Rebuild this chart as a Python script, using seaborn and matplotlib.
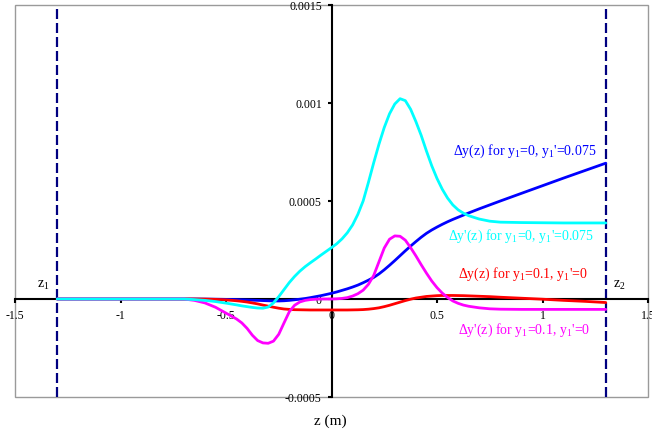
import matplotlib
matplotlib.use("Agg")
import matplotlib.pyplot as plt
from matplotlib.patches import Rectangle
import numpy as np
import pandas as pd
import seaborn as sns

# Longitudinal position along the element (m)
z = [-1.3, -1.1, -0.9, -0.8, -0.7, -0.65, -0.6, -0.55, -0.5,
     -0.45, -0.425, -0.4, -0.375, -0.35, -0.325, -0.3, -0.275, -0.25, -0.225,
     -0.2, -0.175, -0.15, -0.125, -0.1, -0.075, -0.05, -0.025, 0.0,
     0.025, 0.05, 0.075, 0.1, 0.125, 0.15, 0.175, 0.2, 0.225, 0.25,
     0.275, 0.3, 0.325, 0.35, 0.375, 0.4, 0.425, 0.45, 0.475, 0.5,
     0.525, 0.55, 0.575, 0.6, 0.625, 0.65,
     0.7, 0.75, 0.8, 0.9, 1.0, 1.1, 1.2, 1.3]

# Deviations, in units of 1e-4
dy_y0 = [0, 0, 0, 0, 0, 0, -0.005, -0.01, -0.02,
         -0.03, -0.04, -0.05, -0.06, -0.07, -0.08, -0.09, -0.10, -0.10, -0.09,
         -0.07, -0.04, -0.01, 0.025, 0.07, 0.12, 0.17, 0.23, 0.29,
         0.36, 0.44, 0.52, 0.61, 0.71, 0.83, 0.96, 1.10, 1.28, 1.49,
         1.72, 1.96, 2.21, 2.46, 2.70, 2.93, 3.15, 3.35, 3.52, 3.67,
         3.81, 3.94, 4.06, 4.17, 4.28, 4.39,
         4.60, 4.80, 5.00, 5.39, 5.78, 6.17, 6.55, 6.93]

dyp_y0 = [0, 0, 0, 0, 0, -0.03, -0.07, -0.13, -0.21,
          -0.30, -0.35, -0.39, -0.43, -0.46, -0.47, -0.41, -0.20, 0.12, 0.48,
          0.84, 1.15, 1.42, 1.65, 1.85, 2.04, 2.24, 2.43, 2.62,
          2.82, 3.07, 3.38, 3.78, 4.32, 5.00, 5.95, 6.95, 7.90, 8.75,
          9.45, 9.95, 10.22, 10.12, 9.68, 9.05, 8.35, 7.55, 6.80, 6.15,
          5.60, 5.15, 4.80, 4.55, 4.38, 4.25,
          4.08, 3.97, 3.92, 3.90, 3.89, 3.88, 3.88, 3.88]

dy_y01 = [0, 0, 0, 0, 0, 0, -0.005, -0.02, -0.045,
          -0.09, -0.12, -0.155, -0.20, -0.25, -0.31, -0.365, -0.42, -0.47, -0.51,
          -0.53, -0.545, -0.55, -0.555, -0.56, -0.56, -0.56, -0.56, -0.56,
          -0.56, -0.56, -0.56, -0.555, -0.55, -0.54, -0.52, -0.49, -0.45, -0.39,
          -0.32, -0.24, -0.16, -0.08, -0.01, 0.05, 0.09, 0.13, 0.15, 0.17,
          0.18, 0.18, 0.18, 0.175, 0.17, 0.16,
          0.14, 0.12, 0.09, 0.04, -0.01, -0.07, -0.12, -0.18]

dyp_y01 = [0, 0, 0, 0, 0, -0.07, -0.20, -0.42, -0.72,
           -1.02, -1.22, -1.50, -1.85, -2.12, -2.24, -2.26, -2.15, -1.80, -1.22,
           -0.65, -0.32, -0.15, -0.07, -0.03, -0.01, 0.0, 0.0, 0.0,
           0.01, 0.03, 0.07, 0.15, 0.27, 0.45, 0.75, 1.20, 1.90, 2.60,
           3.05, 3.22, 3.20, 3.00, 2.62, 2.20, 1.75, 1.32, 0.92, 0.58,
           0.30, 0.08, -0.10, -0.22, -0.31, -0.37,
           -0.45, -0.50, -0.52, -0.53, -0.53, -0.53, -0.53, -0.53]

SCALE = 1e-4

series_names = [
    "dy_y0", "dy_y01", "dyp_y01", "dyp_y0",
]
series_values = {
    "dy_y0": dy_y0,
    "dy_y01": dy_y01,
    "dyp_y01": dyp_y01,
    "dyp_y0": dyp_y0,
}
palette = {
    "dy_y0": "#0000ff",
    "dy_y01": "#ff0000",
    "dyp_y01": "#ff00ff",
    "dyp_y0": "#00ffff",
}

x_ticks = [-1.5, -1, -0.5, 0, 0.5, 1, 1.5]
x_tick_labels = ["-1.5", "-1", "-0.5", "0", "0.5", "1", "1.5"]
y_ticks = [-0.0005, 0, 0.0005, 0.001, 0.0015]
y_tick_labels = ["-0.0005", "0", "0.0005", "0.001", "0.0015"]
z_ends = [-1.3, 1.3]

frames = []
for name in series_names:
    frames.append(pd.DataFrame({
        "z": z,
        "value": np.array(series_values[name]) * SCALE,
        "series": name,
    }))
df = pd.concat(frames, ignore_index=True)

sns.set_style("white")
plt.rcParams["font.family"] = ["Liberation Serif", "DejaVu Serif"]
plt.rcParams["mathtext.fontset"] = "custom"
plt.rcParams["mathtext.rm"] = "Liberation Serif"
plt.rcParams["mathtext.it"] = "Liberation Serif:italic"

fig = plt.figure(figsize=(6.52, 4.38), dpi=100)
ax = fig.add_axes([15 / 652, 41 / 438, 633 / 652, 392 / 438])

# plot-area frame
ax.add_patch(Rectangle((0, 0), 1, 1, transform=ax.transAxes, fill=False,
                       edgecolor="#9a9a9a", lw=1.0, zorder=0, clip_on=False))

# element ends
for ze in z_ends:
    ax.axvline(ze, color="#000080", lw=1.6, ls=(0, (4.5, 1.8)), zorder=1)

sns.lineplot(data=df, x="z", y="value", hue="series", hue_order=series_names,
             palette=palette, sort=False, estimator=None, linewidth=2.0,
             legend=False, ax=ax, zorder=3)

ax.set_xlim(-1.5, 1.5)
ax.set_ylim(-0.0005, 0.0015)

for side in ("top", "right"):
    ax.spines[side].set_visible(False)
for side in ("left", "bottom"):
    ax.spines[side].set_position(("data", 0))
    ax.spines[side].set_color("black")
    ax.spines[side].set_linewidth(1.5)
    ax.spines[side].set_zorder(2)

ax.set_xticks(x_ticks)
ax.set_xticklabels(x_tick_labels)
ax.set_yticks(y_ticks)
ax.set_yticklabels(y_tick_labels)
ax.tick_params(axis="x", direction="out", length=3, width=1.5, pad=5,
               labelsize=8.5, colors="black", bottom=True)
ax.tick_params(axis="y", direction="out", length=3, width=1.5, pad=4,
               labelsize=8.5, colors="black", left=True)
ax.set_xlabel("")
ax.set_ylabel("")
ax.grid(False)

label_kw = dict(fontsize=10, ha="right", va="baseline")
ax.text(1.258, 7.35e-4, r"Δy(z) for y$_\mathregular{1}$=0, y$_\mathregular{1}$'=0.075",
        color="#0000ff", **label_kw)
ax.text(1.244, 3.01e-4, r"Δy'(z) for y$_\mathregular{1}$=0, y$_\mathregular{1}$'=0.075",
        color="#00ffff", **label_kw)
ax.text(1.216, 1.06e-4, r"Δy(z) for y$_\mathregular{1}$=0.1, y$_\mathregular{1}$'=0",
        color="#ff0000", **label_kw)
ax.text(1.225, -1.78e-4, r"Δy'(z) for y$_\mathregular{1}$=0.1, y$_\mathregular{1}$'=0",
        color="#ff00ff", **label_kw)

ax.text(-1.396, 0.55e-4, r"z$_\mathregular{1}$", fontsize=10, ha="left",
        va="baseline", color="black")
ax.text(1.334, 0.55e-4, r"z$_\mathregular{2}$", fontsize=10, ha="left",
        va="baseline", color="black")

fig.text(330 / 652, 1 - 421 / 438, "z (m)", fontsize=11, ha="center",
         va="center", color="black")

fig.savefig("out.png", dpi=100)
